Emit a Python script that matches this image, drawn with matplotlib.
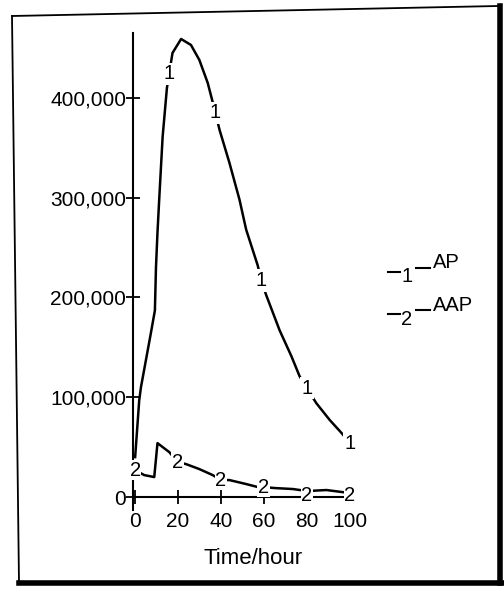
import numpy as np
import matplotlib.pyplot as plt
from matplotlib.lines import Line2D

plt.rcParams['font.family'] = ['Liberation Sans', 'DejaVu Sans']

# AP curve (series 1)
ap_time = [0, 1.9, 2.7, 5.0, 7.3, 9.2, 9.7, 10.4, 11.2, 12.8, 14.8, 17.4, 21.4, 26.0, 29.9,
           33.8, 37.4, 39.3, 43.9, 48.6, 51.7, 57.1, 58.7, 61.1, 67.3, 72.8, 76.6, 80.0,
           84.4, 90.7, 96.2, 100]
ap_value = [40000, 97000, 110000, 137000, 164000, 187000, 230000, 265000, 298000, 361000,
            410000, 445000, 459000, 453000, 438000, 415000, 385000, 368000, 335000, 298000,
            268000, 232000, 217000, 202000, 167000, 141000, 121000, 109000, 94000, 77000,
            64000, 54000]
ap_mark_time = [16.0, 37.4, 58.7, 80.0, 100]
ap_mark_value = [424000, 385000, 217000, 109000, 54000]

# AAP curve (series 2)
aap_time = [0, 4.2, 8.9, 10.4, 15.9, 19.8, 23.7, 29.9, 36.1, 40.0, 43.9, 51.7, 57.1, 59.8,
            65.0, 73.5, 80.0, 89.1, 100]
aap_value = [27000, 22000, 20000, 54000, 45000, 35000, 33000, 28000, 22000, 17000, 17000,
             13000, 10000, 10000, 9000, 8000, 6000, 7000, 4000]
aap_mark_time = [0, 19.8, 40, 59.8, 80, 100]
aap_mark_value = [27000, 35000, 17000, 10000, 2000, 2000]

x_ticks = [0, 20, 40, 60, 80, 100]
y_ticks = [0, 100000, 200000, 300000, 400000]
y_tick_labels = ['0', '100,000', '200,000', '300,000', '400,000']

W, H = 504, 594
fig = plt.figure(figsize=(W / 100, H / 100), dpi=100)
ax = fig.add_axes([133 / W, 1 - 510 / H, (352 - 133) / W, (510 - 33) / H])

ax.plot(ap_time, ap_value, color='black', lw=1.8, zorder=2)
ax.plot(aap_time, aap_value, color='black', lw=1.8, zorder=2)

# number markers sit on the curves and break the line around them
for t, v in zip(ap_mark_time, ap_mark_value):
    ax.text(t, v, '1', ha='center', va='center', fontsize=14.5, zorder=4,
            bbox=dict(facecolor='white', edgecolor='none', pad=1.2))
for t, v in zip(aap_mark_time, aap_mark_value):
    ax.text(t, v, '2', ha='center', va='center', fontsize=14.5, zorder=4,
            bbox=dict(facecolor='white', edgecolor='none', pad=0.4))

ax.set_xlim(-1, 101)
ax.set_ylim(-13000, 465000)
ax.spines['top'].set_visible(False)
ax.spines['right'].set_visible(False)
ax.spines['bottom'].set_position(('data', 0))
ax.spines['left'].set_linewidth(1.5)
ax.spines['bottom'].set_linewidth(1.5)
ax.set_xticks(x_ticks)
ax.set_xticklabels([str(x) for x in x_ticks])
ax.set_yticks(y_ticks)
ax.set_yticklabels(y_tick_labels)
ax.tick_params(axis='both', direction='inout', length=10, width=1.3, labelsize=15)
ax.tick_params(axis='x', pad=6)
ax.tick_params(axis='y', pad=0)
ax.patch.set_alpha(0)

fig.text(253 / W, 1 - 559 / H, 'Time/hour', ha='center', va='center', fontsize=16)


def px_line(xs, ys, lw):
    fig.add_artist(Line2D([x / W for x in xs], [1 - y / H for y in ys],
                          transform=fig.transFigure, color='black', lw=lw))


# legend
for y0, num, name in [(270, '1', 'AP'), (312, '2', 'AAP')]:
    px_line([388, 400], [y0 + 2, y0 + 2], 1.5)
    fig.text(407 / W, 1 - (y0 + 7) / H, num, ha='center', va='center', fontsize=14.5)
    px_line([416, 430], [y0 - 2, y0 - 2], 1.5)
    fig.text(433 / W, 1 - (y0 - 7) / H, name, ha='left', va='center', fontsize=14.5)

# frame around the figure
px_line([12, 498], [16, 6], 1.3)
px_line([12, 19], [16, 583], 1.3)
px_line([19, 504], [583, 583], 4)
px_line([500, 500], [6, 583], 4)

fig.savefig('out.png', dpi=100)
